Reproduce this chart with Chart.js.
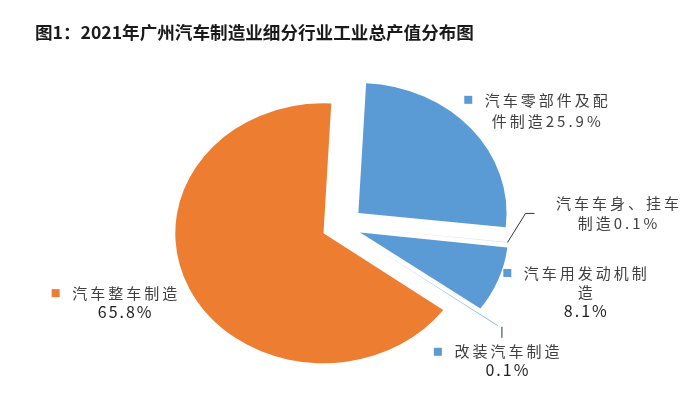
<!DOCTYPE html>
<html><head><meta charset="utf-8">
<script src="https://cdn.jsdelivr.net/npm/chart.js@4/dist/chart.umd.min.js"></script>
<style>
html,body{margin:0;padding:0;background:#fff;}
#wrap{position:relative;width:694px;height:395px;overflow:hidden;}
#title{position:absolute;left:35px;top:20px;font:bold 17.6px "Noto Sans CJK SC";color:#1a1a1a;line-height:24px;white-space:nowrap;}
canvas{position:absolute;left:0;top:0;}
</style></head><body>
<div id="wrap"><canvas id="c" width="694" height="395"></canvas><div id="title"></div></div>
<script>
const titleText = '图1：2021年广州汽车制造业细分行业工业总产值分布图';
const categories = ['汽车零部件及配件制造', '汽车车身、挂车制造', '汽车用发动机制造', '改装汽车制造', '汽车整车制造'];
const values = [25.9, 0.1, 8.1, 0.1, 65.8];

// styling / layout (kept separate from data)
const colors = ['#5B9BD5', '#D6E4F3', '#5B9BD5', '#6FA8DC', '#ED7D31'];
const markerColors = ['#5B9BD5', '#D6E4F3', '#5B9BD5', '#5B9BD5', '#ED7D31'];
const explode = [20, 17, 18, 40, 17];
const STRETCH = 1.14;
const labelSplit = [7, 7, 7, 6, 6];
const pctOwnLine = [false, false, true, true, true];
const labelOffset = [[75, -29], [110, -39], [87, -6.5], [9, 26], [-65, 4]];
const lineGap = [21, 20, 19, 18.5, 19];
const showMarker = [true, false, true, true, true];
const leaders = {1: [[0, 0], [18, -29], [27, -29]], 3: [[4, 1], [4, 12]]};

document.getElementById('title').textContent = titleText;

function labelLines(i) {
  const name = categories[i];
  const first = name.slice(0, labelSplit[i]);
  const rest = name.slice(labelSplit[i]);
  const pct = values[i].toFixed(1) + '%';
  const lines = [first];
  if (pctOwnLine[i]) { if (rest) lines.push(rest); lines.push(pct); }
  else lines.push(rest + pct);
  return lines;
}

const ArcEl = (Chart.elements && Chart.elements.ArcElement) || Chart.registry.getElement('arc');
const origDraw = ArcEl.prototype.draw;
ArcEl.prototype.draw = function (ctx, area) {
  const i = this.$context ? this.$context.dataIndex : 0;
  const e = explode[i] || 0;
  const half = (this.startAngle + this.endAngle) / 2;
  ctx.save();
  ctx.translate(Math.cos(half) * e, Math.sin(half) * e);
  origDraw.call(this, ctx, area);
  ctx.restore();
};

const piePlugin = {
  id: 'stretchAndLabels',
  beforeDatasetsDraw(chart) {
    const ctx = chart.ctx, a = chart.chartArea;
    const cx = (a.left + a.right) / 2;
    ctx.save();
    ctx.translate(cx, 0); ctx.scale(STRETCH, 1); ctx.translate(-cx, 0);
  },
  afterDatasetsDraw(chart) {
    const ctx = chart.ctx;
    ctx.restore();
    const a = chart.chartArea;
    const cx = (a.left + a.right) / 2;
    const meta = chart.getDatasetMeta(0);
    meta.data.forEach((arc, i) => {
      const m = (arc.startAngle + arc.endAngle) / 2;
      const r = arc.outerRadius + explode[i];
      const ux = arc.x + Math.cos(m) * r;
      const ay = arc.y + Math.sin(m) * r;
      const ax = cx + (ux - cx) * STRETCH;
      if (leaders[i]) {
        ctx.save();
        ctx.strokeStyle = '#333';
        ctx.lineWidth = 1;
        ctx.beginPath();
        leaders[i].forEach((p, k) => {
          const x = ax + p[0], y = ay + p[1];
          if (k === 0) ctx.moveTo(x, y); else ctx.lineTo(x, y);
        });
        ctx.stroke();
        ctx.restore();
      }
      const lines = labelLines(i);
      const tx = ax + labelOffset[i][0];
      const ty = ay + labelOffset[i][1];
      ctx.save();
      ctx.textAlign = 'center';
      ctx.textBaseline = 'middle';
      lines.forEach((ln, k) => {
        const pctOnly = /^[\d.]+%$/.test(ln);
        ctx.font = pctOnly ? '16px "Noto Sans CJK SC"' : '15px "Noto Sans CJK SC"';
        ctx.letterSpacing = pctOnly ? '2px' : '3px';
        ctx.fillStyle = pctOnly ? '#1e1e1e' : '#404040';
        ctx.fillText(ln, tx + (pctOnly ? 1 : 1.5), ty + k * lineGap[i]);
      });
      if (showMarker[i]) {
        ctx.font = '15px "Noto Sans CJK SC"';
        ctx.letterSpacing = '3px';
        const w = ctx.measureText(lines[0]).width;
        const mx = tx - w / 2 - 15;
        ctx.fillStyle = markerColors[i];
        ctx.fillRect(mx - 4, ty - 4, 8, 8);
      }
      ctx.restore();
    });
  }
};

new Chart(document.getElementById('c'), {
  type: 'pie',
  data: {
    labels: categories,
    datasets: [{
      data: values,
      backgroundColor: colors,
      borderWidth: 0,
      hoverOffset: 0,
      clip: false
    }]
  },
  options: {
    responsive: false,
    devicePixelRatio: 1,
    animation: false,
    rotation: 3,
    radius: 130,
    layout: {padding: {left: 0, right: 12, top: 57, bottom: 0}},
    plugins: {legend: {display: false}, tooltip: {enabled: false}, title: {display: false}}
  },
  plugins: [piePlugin]
});
</script>
</body></html>
